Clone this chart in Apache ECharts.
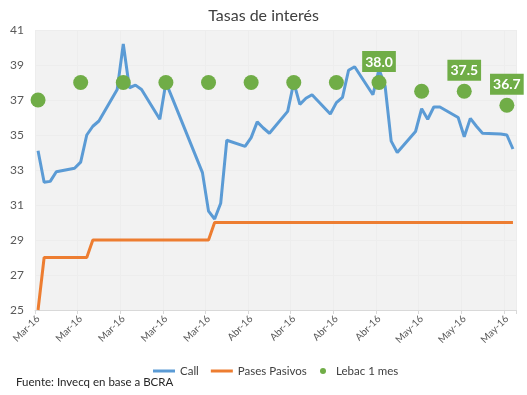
<!DOCTYPE html>
<html>
<head>
<meta charset="utf-8">
<script src="https://cdn.jsdelivr.net/npm/echarts@6/dist/echarts.min.js"></script>
<style>html,body{margin:0;padding:0;background:#fff;}#c{width:527px;height:395px;}</style>
</head>
<body>
<div id="c"></div>
<script>
// Calendar days on the x axis (1 Mar 2016 - 18 May 2016)
const days = [
 '2016-03-01','2016-03-02','2016-03-03','2016-03-04','2016-03-05','2016-03-06','2016-03-07','2016-03-08','2016-03-09','2016-03-10',
 '2016-03-11','2016-03-12','2016-03-13','2016-03-14','2016-03-15','2016-03-16','2016-03-17','2016-03-18','2016-03-19','2016-03-20',
 '2016-03-21','2016-03-22','2016-03-23','2016-03-24','2016-03-25','2016-03-26','2016-03-27','2016-03-28','2016-03-29','2016-03-30',
 '2016-03-31','2016-04-01','2016-04-02','2016-04-03','2016-04-04','2016-04-05','2016-04-06','2016-04-07','2016-04-08','2016-04-09',
 '2016-04-10','2016-04-11','2016-04-12','2016-04-13','2016-04-14','2016-04-15','2016-04-16','2016-04-17','2016-04-18','2016-04-19',
 '2016-04-20','2016-04-21','2016-04-22','2016-04-23','2016-04-24','2016-04-25','2016-04-26','2016-04-27','2016-04-28','2016-04-29',
 '2016-04-30','2016-05-01','2016-05-02','2016-05-03','2016-05-04','2016-05-05','2016-05-06','2016-05-07','2016-05-08','2016-05-09',
 '2016-05-10','2016-05-11','2016-05-12','2016-05-13','2016-05-14','2016-05-15','2016-05-16','2016-05-17','2016-05-18'
];
const monthNames = {'03':'Mar','04':'Abr','05':'May'};

// Business days with quotes
const bizDays = [
 '2016-03-01','2016-03-02','2016-03-03','2016-03-04','2016-03-07','2016-03-08','2016-03-09','2016-03-10','2016-03-11',
 '2016-03-14','2016-03-15','2016-03-16','2016-03-17','2016-03-18','2016-03-21','2016-03-22','2016-03-23',
 '2016-03-28','2016-03-29','2016-03-30','2016-03-31','2016-04-01','2016-04-04','2016-04-05','2016-04-06','2016-04-07','2016-04-08',
 '2016-04-11','2016-04-12','2016-04-13','2016-04-14','2016-04-15','2016-04-18','2016-04-19','2016-04-20','2016-04-21','2016-04-22',
 '2016-04-25','2016-04-26','2016-04-27','2016-04-28','2016-04-29','2016-05-02','2016-05-03','2016-05-04','2016-05-05','2016-05-06',
 '2016-05-09','2016-05-10','2016-05-11','2016-05-12','2016-05-13','2016-05-16','2016-05-17','2016-05-18'
];
const callValues = [
 34.1,32.3,32.35,32.9,33.1,33.45,35.0,35.5,35.8,
 37.6,40.2,37.7,37.85,37.6,35.9,38.0,37.15,
 32.85,30.65,30.2,31.1,34.7,34.35,34.85,35.75,35.4,35.1,
 36.35,38.0,36.75,37.1,37.3,36.2,36.85,37.15,38.7,38.9,
 37.3,38.75,37.8,34.65,34.0,35.2,36.5,35.9,36.6,36.6,
 36.0,34.9,35.95,35.5,35.1,35.06,35.0,34.2
];
const pasesValues = [
 25,28,28,28,28,28,28,29,29,
 29,29,29,29,29,29,29,29,
 29,29,30,30,30,30,30,30,30,30,
 30,30,30,30,30,30,30,30,30,30,
 30,30,30,30,30,30,30,30,30,30,
 30,30,30,30,30,30,30,30
];

// Lebac 1 mes (weekly auctions)
const lebacDays = ['2016-03-01','2016-03-08','2016-03-15','2016-03-22','2016-03-29','2016-04-05','2016-04-12','2016-04-19','2016-04-26','2016-05-03','2016-05-10','2016-05-17'];
const lebacValues = [37.0,38.0,38.0,38.0,38.0,38.0,38.0,38.0,38.0,37.5,37.5,36.7];
const lebacLabeled = [false,false,false,false,false,false,false,false,true,false,true,true];

const FONT = 'Lato, "Liberation Sans", sans-serif';
const chart = echarts.init(document.getElementById('c'), null, {renderer:'canvas'});

const pair = (xs, ys) => xs.map((x,i) => [x, ys[i]]);

chart.setOption({
  animation:false,
  backgroundColor:'#ffffff',
  textStyle:{fontFamily:FONT},
  title:{
    text:'Tasas de interés', left:'center', top:3,
    textStyle:{fontFamily:FONT, fontSize:16, fontWeight:'normal', color:'#404040'}
  },
  grid:{left:35, right:11, top:30, bottom:85, show:true, backgroundColor:'#F2F2F2', borderWidth:0},
  xAxis:{
    type:'category', data:days, boundaryGap:true,
    axisLine:{show:true, lineStyle:{color:'#D9D9D9', width:1}},
    axisTick:{show:true, interval:6, length:4, lineStyle:{color:'#D9D9D9'}},
    splitLine:{show:true, interval:6, lineStyle:{color:'#EDEDED', width:1}},
    axisLabel:{
      interval:6, rotate:45, margin:7, fontSize:10, color:'#595959', fontFamily:FONT,
      formatter:(v) => monthNames[v.slice(5,7)] + '-' + v.slice(2,4)
    }
  },
  yAxis:{
    type:'value', min:25, max:41, interval:2,
    axisLine:{show:false}, axisTick:{show:false},
    splitLine:{show:true, lineStyle:{color:'#EDEDED', width:1}},
    axisLabel:{fontSize:12, color:'#595959', margin:11, fontFamily:FONT}
  },
  legend:[
    {
      left:148, top:360, itemWidth:22, itemHeight:3, itemGap:12, icon:'rect',
      data:['Call','Pases Pasivos'],
      textStyle:{fontSize:11.5, color:'#404040', fontFamily:FONT}
    },
    {
      left:315, top:360, itemWidth:6, itemHeight:6, icon:'circle',
      data:['Lebac 1 mes'],
      textStyle:{fontSize:11.5, color:'#404040', fontFamily:FONT, padding:[0,0,0,5]}
    }
  ],
  graphic:[{
    type:'text', left:16, top:376,
    style:{text:'Fuente: Invecq en base a BCRA', fontSize:11.5, fill:'#262626', fontFamily:FONT}
  }],
  series:[
    {
      name:'Call', type:'line', data:pair(bizDays, callValues),
      showSymbol:false, symbol:'none', connectNulls:true,
      lineStyle:{color:'#5B9BD5', width:3}, itemStyle:{color:'#5B9BD5'}, z:3
    },
    {
      name:'Pases Pasivos', type:'line', data:pair(bizDays, pasesValues),
      showSymbol:false, symbol:'none',
      lineStyle:{color:'#ED7D31', width:3}, itemStyle:{color:'#ED7D31'}, z:2
    },
    {
      name:'Lebac 1 mes', type:'scatter', symbolSize:15,
      itemStyle:{color:'#70AD47', opacity:1},
      data:lebacDays.map((d,i) => ({
        value:[d, lebacValues[i]],
        label:{show:lebacLabeled[i]}
      })),
      label:{
        position:'top', distance:3,
        formatter:(p) => p.value[1].toFixed(1),
        backgroundColor:'#70AD47', color:'#ffffff', fontWeight:'bold', fontSize:14,
        padding:[4,3,3,3], fontFamily:FONT
      },
      z:4
    }
  ]
});
</script>
</body>
</html>
